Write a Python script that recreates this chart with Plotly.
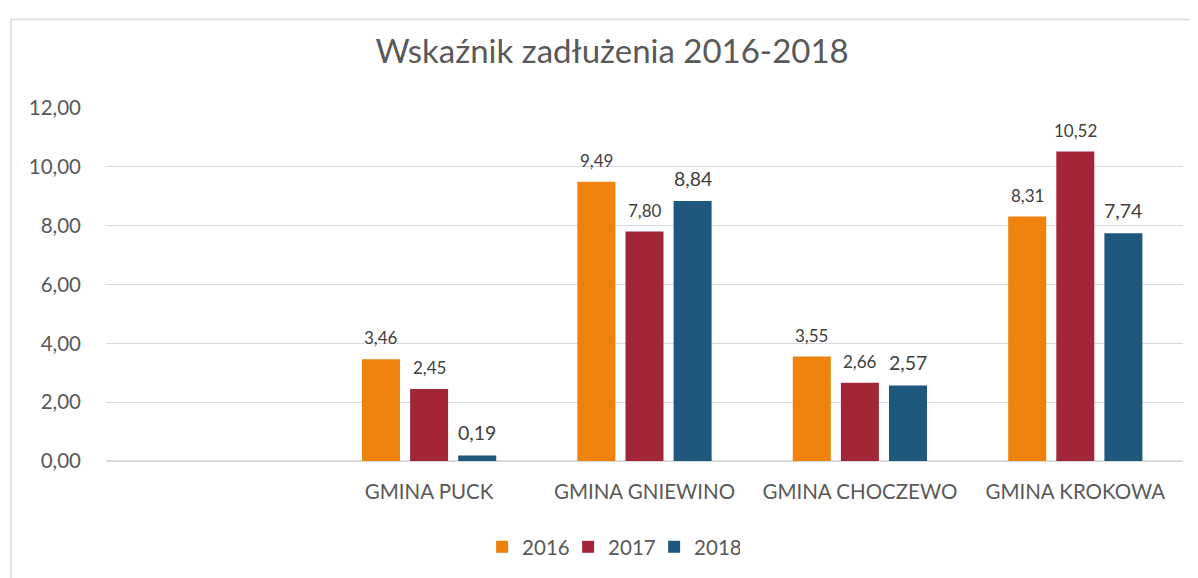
import plotly.graph_objects as go

categories = [" ", "GMINA PUCK", "GMINA GNIEWINO", "GMINA CHOCZEWO", "GMINA KROKOWA"]
years = ["2016", "2017", "2018"]
v2016 = [None, 3.46, 9.49, 3.55, 8.31]
v2017 = [None, 2.45, 7.80, 2.66, 10.52]
v2018 = [None, 0.19, 8.84, 2.57, 7.74]
tick_vals = [0, 2, 4, 6, 8, 10, 12]

colors = ["#EF820D", "#A22638", "#1E587C"]
label_sizes = [17, 17, 19.5]
FONT = "Lato, 'Open Sans', sans-serif"

fig = go.Figure()
annotations = []
series = [v2016, v2017, v2018]
for i, (name, vals, col, ls) in enumerate(zip(years, series, colors, label_sizes)):
    fig.add_trace(go.Bar(
        name=name, x=categories, y=vals, marker=dict(color=col, line=dict(width=0)),
    ))
    for c, v in zip(categories, vals):
        if v is None:
            continue
        annotations.append(dict(
            x=c, y=v, xref="x", yref="y", xshift=(i - 1) * 48, yshift=9,
            yanchor="bottom", showarrow=False,
            text=f"{v:.2f}".replace(".", ","),
            font=dict(size=ls, color="#404040", family=FONT),
        ))

fig.update_layout(
    width=1190, height=570,
    margin=dict(l=98, r=15, t=100, b=116),
    paper_bgcolor="white", plot_bgcolor="white",
    separators=", ",
    barmode="group", bargap=0.33, bargroupgap=0.21,
    title=dict(text="Wskaźnik zadłużenia 2016-2018", x=0.5076, xanchor="center",
               y=0.923, yanchor="middle",
               font=dict(size=33, color="#595959", family=FONT)),
    font=dict(family=FONT, color="#595959"),
    legend=dict(orientation="h", x=0.469, xanchor="center", y=-0.24, yanchor="middle",
                font=dict(size=20.5, color="#595959"), traceorder="normal",
                itemwidth=30, entrywidth=41, entrywidthmode="pixels"),
    xaxis=dict(type="category", categoryorder="array", categoryarray=categories,
               showgrid=False, showline=False, ticks="", zeroline=False,
               ticklabelstandoff=16,
               tickfont=dict(size=20.5, color="#595959")),
    yaxis=dict(range=[0, 12], tickvals=tick_vals, tickformat=".2f",
               showgrid=True, gridcolor="#D9D9D9", gridwidth=1.3,
               zeroline=True, zerolinecolor="#D9D9D9", zerolinewidth=2,
               showline=False, ticks="", ticklabelstandoff=24,
               tickfont=dict(size=20.5, color="#595959")),
    annotations=annotations,
    shapes=[dict(type="rect", xref="paper", yref="paper",
                 x0=-0.0882, x1=1.2, y0=-1.0, y1=1.251,
                 line=dict(color="#D9D9D9", width=1.5), fillcolor="rgba(0,0,0,0)", layer="below")],
)

fig.write_html("out.html")
